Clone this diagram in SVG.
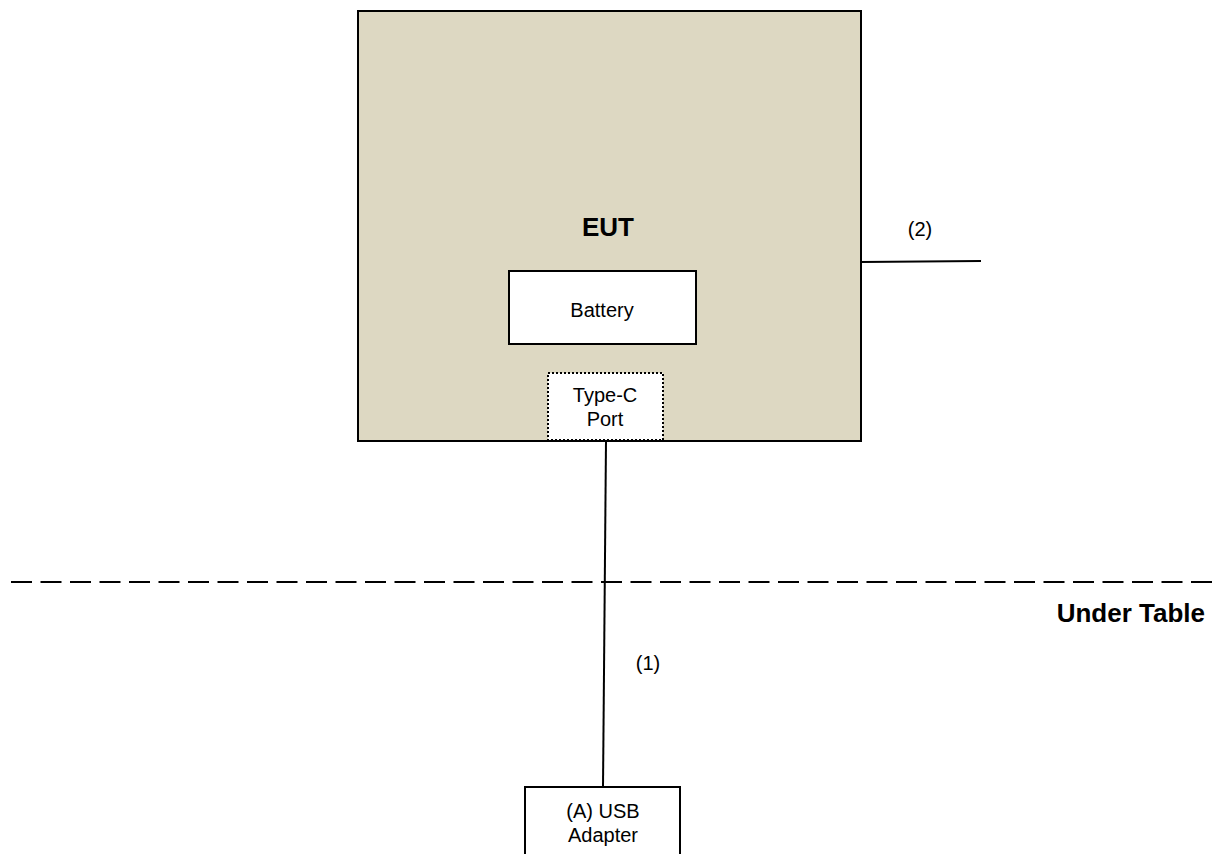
<svg xmlns="http://www.w3.org/2000/svg" width="1219" height="854" viewBox="0 0 1219 854">
<style>
text{font-family:"Liberation Sans",Arial,sans-serif;fill:#000}
.n{font-size:20px;text-anchor:middle}
.b{font-size:26px;font-weight:bold}
.box{fill:#fff;stroke:#000;stroke-width:2}
.ln{stroke:#000;stroke-width:2;fill:none}
</style>
<rect width="1219" height="854" fill="#fff"/>
<g id="eut">
<rect x="358" y="11" width="503" height="430" fill="#DDD8C2" stroke="#000" stroke-width="2"/>
<text class="b" x="608" y="236" text-anchor="middle">EUT</text>
</g>
<g id="battery">
<rect class="box" x="509" y="271" width="187" height="73"/>
<text class="n" x="602" y="317">Battery</text>
</g>
<g id="typec">
<rect x="548" y="373" width="115" height="67" fill="#fff" stroke="#000" stroke-width="2" stroke-dasharray="2,2"/>
<text class="n" x="605" y="402">Type-C</text>
<text class="n" x="605" y="426">Port</text>
</g>
<g id="usb">
<rect class="box" x="525" y="787" width="155" height="80"/>
<text class="n" x="603" y="818">(A) USB</text>
<text class="n" x="603" y="842">Adapter</text>
</g>
<g id="connectors">
<line class="ln" x1="606" y1="441" x2="603" y2="787"/>
<line class="ln" x1="861" y1="262" x2="981" y2="261"/>
<line x1="11" y1="582" x2="1219" y2="582" stroke="#000" stroke-width="2" stroke-dasharray="21,8.5"/>
<text class="n" x="648" y="670">(1)</text>
<text class="n" x="920" y="236">(2)</text>
</g>
<g id="under-table">
<text class="b" x="1205" y="622" text-anchor="end">Under Table</text>
</g>
</svg>
